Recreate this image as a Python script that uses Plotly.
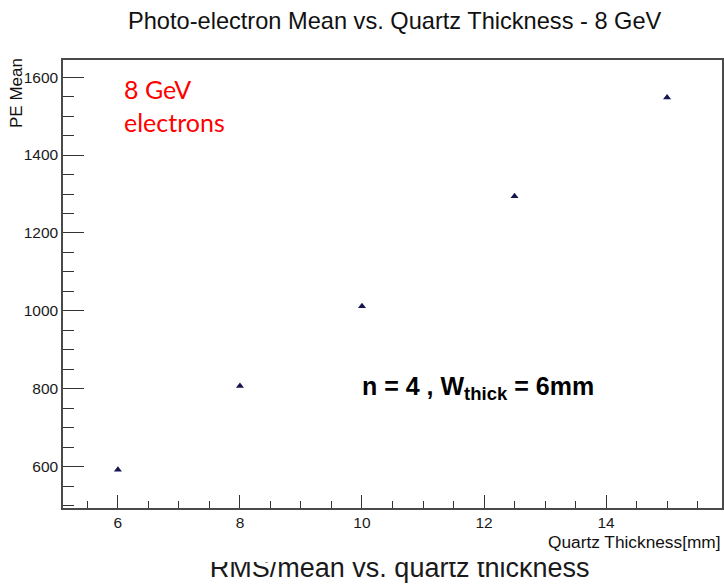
import plotly.graph_objects as go

# Photo-electron mean vs. quartz thickness, 8 GeV electrons
thickness_mm = [6, 8, 10, 12.5, 15]
pe_mean = [592, 807, 1012, 1294, 1548]

x_ticks = [6, 8, 10, 12, 14]
y_ticks = [600, 800, 1000, 1200, 1400, 1600]

W, H = 724, 584


def px(x):
    return x / W


def py(y):
    return 1 - y / H


fig = go.Figure()

fig.add_trace(go.Scatter(
    x=thickness_mm, y=pe_mean, mode="markers",
    marker=dict(symbol="triangle-up", size=7, color="#15154f", line=dict(width=0)),
    showlegend=False, hoverinfo="x+y",
))

# caption line below the frame, clipped to its own strip
fig.add_trace(go.Scatter(
    x=[0.552], y=[0], mode="text",
    text=["RMS/mean vs. quartz thickness"],
    textposition="middle center",
    textfont=dict(family="Liberation Sans, Arial", size=27, color="#1a1a1a"),
    xaxis="x2", yaxis="y2", cliponaxis=True, showlegend=False, hoverinfo="skip",
))

axis_font = dict(family="Liberation Sans, Arial", size=15.5, color="#1a1a1a")
frame = dict(showline=True, linecolor="#4a4a4a", linewidth=1.5, mirror=True,
             showgrid=False, zeroline=False, ticks="inside", tickcolor="#333",
             tickwidth=1.3, tickfont=axis_font)

fig.update_layout(
    width=W, height=H,
    margin=dict(l=0, r=0, t=0, b=0),
    paper_bgcolor="white", plot_bgcolor="white",
    xaxis=dict(domain=[px(63), px(722)], range=[5.1, 15.9],
               tickmode="array", tickvals=x_ticks, ticklen=13,
               minor=dict(dtick=0.5, tick0=0, ticks="inside", ticklen=7,
                          tickcolor="#333", tickwidth=1.2),
               anchor="y", **frame),
    yaxis=dict(domain=[py(508), py(60)], range=[494, 1644],
               tickmode="array", tickvals=y_ticks, ticklen=21,
               minor=dict(dtick=50, tick0=0, ticks="inside", ticklen=11,
                          tickcolor="#333", tickwidth=1.2),
               anchor="x", **frame),
    xaxis2=dict(domain=[0, 1], range=[0, 1], visible=False, anchor="y2"),
    yaxis2=dict(domain=[0, py(562)], range=[-0.62, 0.38], visible=False, anchor="x2"),
)

annotations = [
    dict(text="Photo-electron Mean vs. Quartz Thickness - 8 GeV",
         x=px(395), y=py(21), xanchor="center", yanchor="middle",
         font=dict(family="Liberation Sans, Arial", size=23.6, color="#111")),
    dict(text="PE Mean", textangle=-90,
         x=px(17), y=py(56), xanchor="center", yanchor="top",
         font=dict(family="Liberation Sans, Arial", size=17, color="#111")),
    dict(text="Quartz Thickness[mm]",
         x=px(723), y=py(542), xanchor="right", yanchor="middle",
         font=dict(family="Liberation Sans, Arial", size=17.3, color="#111")),
    dict(text="8 GeV", x=px(122), y=py(89), xanchor="left", yanchor="middle",
         font=dict(family="Lato, Noto Sans", size=25, color="#ff0000")),
    dict(text="electrons", x=px(122), y=py(122), xanchor="left", yanchor="middle",
         font=dict(family="Lato, Noto Sans", size=25, color="#ff0000")),
    dict(text="<b>n = 4 , W<sub><span style='font-size:18.5px'>thick</span></sub> = 6mm</b>",
         x=px(360), y=py(388), xanchor="left", yanchor="middle",
         font=dict(family="Liberation Sans, Arial", size=25, color="#000")),
]
for a in annotations:
    a.update(xref="paper", yref="paper", showarrow=False)
fig.update_layout(annotations=annotations)

fig.write_html("out.html")
